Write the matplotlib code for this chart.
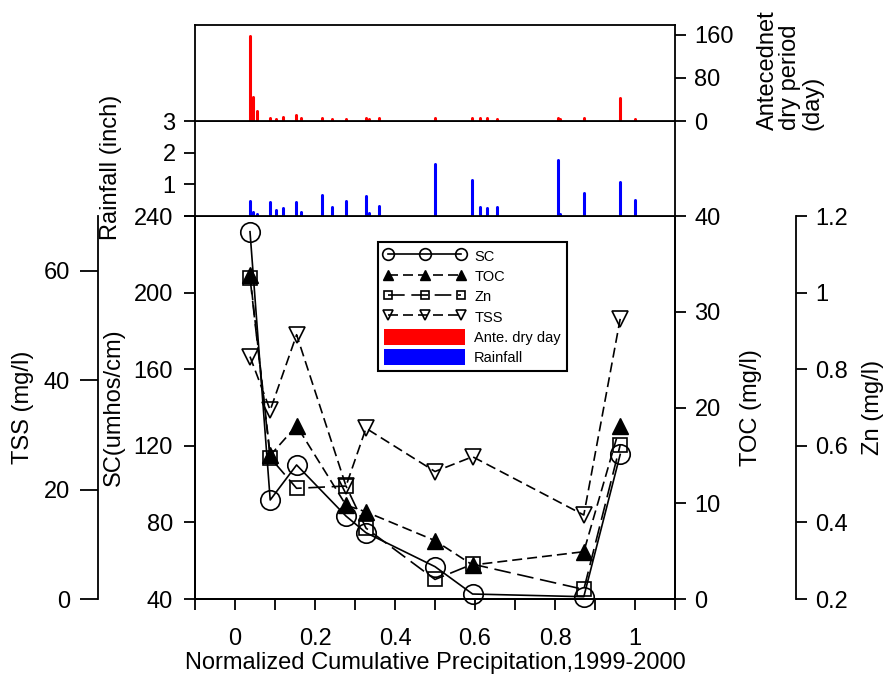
import numpy as np
import matplotlib
matplotlib.use("Agg")
import matplotlib.pyplot as plt
from matplotlib.patches import Patch
from matplotlib.ticker import FixedLocator

plt.rcParams['font.family'] = ['Liberation Sans', 'DejaVu Sans']
plt.rcParams['font.size'] = 17

# sampling events (normalized cumulative precipitation)
x_pts = [0.0375, 0.088, 0.154, 0.2775, 0.3275, 0.5, 0.594, 0.872, 0.963]
sc = [231.8, 91.7, 110.0, 83.3, 74.6, 56.9, 42.6, 41.2, 115.5]
toc = [33.8, 15.0, 18.1, 9.8, 9.1, 6.1, 3.55, 4.94, 18.1]
zn = [1.039, 0.569, 0.489, 0.495, 0.385, 0.251, 0.291, 0.225, 0.602]
tss = [44.3, 34.5, 48.3, 20.65, 31.2, 23.3, 26.0, 15.35, 51.2]

# storm events
x_rain = [0.038, 0.0445, 0.055, 0.088, 0.1017, 0.119, 0.153, 0.165, 0.2167,
          0.2417, 0.2775, 0.3275, 0.336, 0.359, 0.5008, 0.5933, 0.613, 0.63,
          0.655, 0.8067, 0.813, 0.8717, 0.9617, 1.0008]
rain = [0.46, 0.13, 0.07, 0.43, 0.19, 0.26, 0.43, 0.13, 0.65,
        0.29, 0.46, 0.62, 0.10, 0.33, 1.63, 1.13, 0.29, 0.26,
        0.29, 1.78, 0.07, 0.72, 1.06, 0.49]
dry_days = [157.5, 43.7, 18.5, 6, 4, 8, 12, 5, 5,
            4, 4, 5.5, 3, 5.5, 5.5, 5.5, 5.5, 6,
            4, 5.5, 3, 5.5, 43, 4]

W, H = 886, 675
fig = plt.figure(figsize=(W / 100, H / 100), dpi=100)

def box(x0, y0, x1, y1):
    return [x0 / W, 1 - y1 / H, (x1 - x0) / W, (y1 - y0) / H]

lw = 1.3
tick_kw = dict(direction='out', length=8, width=lw, pad=6)

# main axes (SC)
ax = fig.add_axes(box(195, 216, 675, 599))
ax_toc = ax.twinx()
ax_zn = ax.twinx()
ax_tss = ax.twinx()

for a in (ax, ax_toc, ax_zn, ax_tss):
    for s in a.spines.values():
        s.set_linewidth(lw)
    a.tick_params(**tick_kw)
    a.tick_params(which='minor', **tick_kw)

ax.set_xlim(-0.1, 1.1)
ax.set_xticks([0, 0.2, 0.4, 0.6, 0.8, 1.0])
ax.set_xticklabels(['0', '0.2', '0.4', '0.6', '0.8', '1'])
ax.xaxis.set_minor_locator(FixedLocator([-0.1, 0.1, 0.3, 0.5, 0.7, 0.9, 1.1]))
ax.tick_params(axis='x', which='both', pad=13)
ax.tick_params(axis='y', pad=8)
ax.set_ylim(40, 240)
ax.set_yticks([40, 80, 120, 160, 200, 240])
ax.set_xlabel('Normalized Cumulative Precipitation,1999-2000', labelpad=1)
ax.set_ylabel('SC(umhos/cm)')
ax.yaxis.set_label_coords(-0.146, 0.5)

ax_toc.set_ylim(0, 40)
ax_toc.set_yticks([0, 10, 20, 30, 40])
ax_toc.set_ylabel('TOC (mg/l)')
ax_toc.yaxis.set_label_coords(1.135, 0.5)

ax_zn.spines['right'].set_position(('outward', 87))
ax_zn.set_ylim(0.2, 1.2)
ax_zn.set_yticks([0.2, 0.4, 0.6, 0.8, 1.0, 1.2])
ax_zn.set_yticklabels(['0.2', '0.4', '0.6', '0.8', '1', '1.2'])
ax_zn.set_ylabel('Zn (mg/l)')
ax_zn.yaxis.set_label_coords(1.39, 0.5)

ax_tss.spines['right'].set_visible(False)
ax_tss.spines['left'].set_visible(True)
ax_tss.spines['left'].set_position(('outward', 70))
ax_tss.yaxis.set_ticks_position('left')
ax_tss.yaxis.set_label_position('left')
ax_tss.tick_params(length=13, pad=7)
ax_tss.set_ylim(0, 70)
ax_tss.set_yticks([0, 20, 40, 60])
ax_tss.set_ylabel('TSS (mg/l)')
ax_tss.yaxis.set_label_coords(-0.335, 0.5)

l_sc, = ax.plot(x_pts, sc, color='k', lw=1.2, marker='o', ms=14,
                mfc='none', mec='k', mew=1.2, label='SC', clip_on=False)
l_toc, = ax_toc.plot(x_pts, toc, color='k', lw=1.2, ls=(0, (6, 3)), marker='^',
                     ms=11, mfc='k', mec='k', label='TOC', clip_on=False)
l_zn, = ax_zn.plot(x_pts, zn, color='k', lw=1.2, ls=(0, (10, 4)), marker='s',
                   ms=10, mfc='none', mec='k', mew=1.2, label='Zn', clip_on=False)
l_tss, = ax_tss.plot(x_pts, tss, color='k', lw=1.2, ls=(0, (6, 3)), marker='v',
                     ms=12, mfc='none', mec='k', mew=1.2, label='TSS', clip_on=False)

handles = [l_sc, l_toc, l_zn, l_tss,
           Patch(facecolor='red', edgecolor='none', label='Ante. dry day'),
           Patch(facecolor='blue', edgecolor='none', label='Rainfall')]
leg = ax_tss.legend(handles=handles, loc='upper left', bbox_to_anchor=(0.381, 0.932),
                    borderaxespad=0, fontsize=10.5, numpoints=3, markerscale=0.6,
                    handlelength=5.6, handleheight=1.3, labelspacing=0.3,
                    handletextpad=0.6, borderpad=0.4, fancybox=False,
                    edgecolor='k', framealpha=1)
leg.get_frame().set_linewidth(1.5)

# rainfall panel
ax_r = fig.add_axes(box(195, 121, 675, 216))
ax_r.set_xlim(-0.1, 1.1)
ax_r.set_ylim(0, 3)
ax_r.vlines(x_rain, 0, rain, colors='blue', lw=2.2, capstyle='round')
ax_r.set_xticks([])
ax_r.set_yticks([0, 1, 2, 3])
ax_r.set_yticklabels(['', '1', '2', '3'])
ax_r.tick_params(**tick_kw)
for s in ax_r.spines.values():
    s.set_linewidth(lw)
ax_r.set_ylabel('Rainfall (inch)')
ax_r.yaxis.set_label_coords(-0.152, 0.51)

# antecedent dry period panel
ax_a = fig.add_axes(box(195, 25, 675, 121))
ax_a.set_xlim(-0.1, 1.1)
ax_a.set_ylim(0, 178)
ax_a.vlines(x_rain, 0, dry_days, colors='red', lw=2.2, capstyle='round')
ax_a.set_xticks([])
ax_a.yaxis.tick_right()
ax_a.set_yticks([0, 80, 160])
ax_a.tick_params(**tick_kw)
for s in ax_a.spines.values():
    s.set_linewidth(lw)
ax_a.text(1.24, 0.53, 'Antecednet\ndry period\n(day)', transform=ax_a.transAxes,
          rotation=90, ha='center', va='center', multialignment='left',
          linespacing=1.0)

fig.savefig('out.png', dpi=100)
